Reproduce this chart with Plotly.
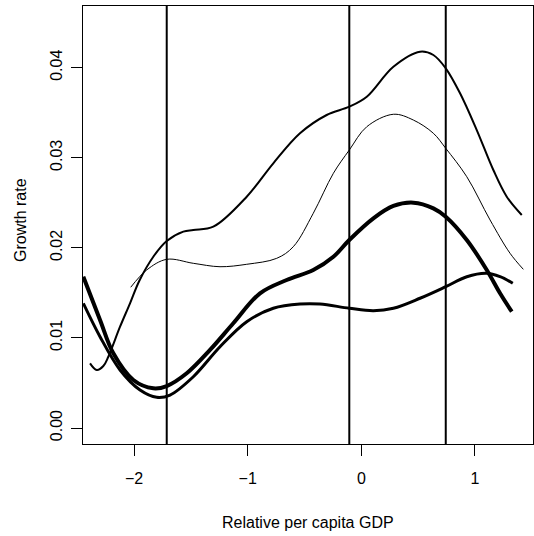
import plotly.graph_objects as go

# ---- data ----
x_a = [-2.388, -2.329, -2.271, -2.227, -2.124, -2.036, -1.954, -1.831, -1.713, -1.567, -1.479,
       -1.303, -1.009, -0.775, -0.540, -0.305, -0.106, 0.048, 0.282, 0.517, 0.634, 0.743,
       0.869, 1.016, 1.162, 1.280, 1.412]
y_a = [0.00718, 0.00644, 0.00688, 0.00791, 0.01124, 0.01384, 0.01635, 0.01901, 0.02075, 0.02179, 0.02198,
       0.02234, 0.02567, 0.02938, 0.03271, 0.03474, 0.03566, 0.03677, 0.04010, 0.04177, 0.04140, 0.03992,
       0.03715, 0.03307, 0.02863, 0.02567, 0.02364]

x_b = [-2.030, -1.889, -1.713, -1.479, -1.244, -1.009, -0.745, -0.599, -0.423, -0.246, -0.106,
       0.048, 0.282, 0.458, 0.634, 0.743, 0.928, 1.133, 1.309, 1.426]
y_b = [0.01562, 0.01754, 0.01872, 0.01828, 0.01790, 0.01817, 0.01883, 0.02012, 0.02383, 0.02827, 0.03085,
       0.03344, 0.03482, 0.03418, 0.03271, 0.03104, 0.02789, 0.02309, 0.01939, 0.01761]

x_c = [-2.447, -2.300, -2.183, -2.007, -1.831, -1.713, -1.537, -1.332, -1.127, -0.892, -0.657,
       -0.423, -0.246, -0.106, 0.106, 0.282, 0.458, 0.634, 0.743, 0.928, 1.104, 1.221, 1.324]
y_c = [0.01679, 0.01199, 0.00829, 0.00533, 0.00441, 0.00466, 0.00607, 0.00866, 0.01162, 0.01495, 0.01643,
       0.01754, 0.01901, 0.02087, 0.02327, 0.02464, 0.02501, 0.02438, 0.02345, 0.02087, 0.01754, 0.01495, 0.01291]

x_d = [-2.447, -2.300, -2.124, -1.948, -1.801, -1.684, -1.479, -1.244, -1.009, -0.775, -0.540,
       -0.364, -0.106, 0.106, 0.282, 0.517, 0.743, 0.928, 1.104, 1.221, 1.333]
y_d = [0.01384, 0.01013, 0.00644, 0.00422, 0.00341, 0.00366, 0.00569, 0.00902, 0.01180, 0.01329, 0.01376,
       0.01376, 0.01329, 0.01302, 0.01329, 0.01440, 0.01568, 0.01679, 0.01717, 0.01679, 0.01606]

vlines = [-1.713, -0.106, 0.743]

x_ticks = [-2, -1, 0, 1]
x_tick_labels = ["\u22122", "\u22121", "0", "1"]
y_ticks = [0.00, 0.01, 0.02, 0.03, 0.04]
y_tick_labels = ["0.00", "0.01", "0.02", "0.03", "0.04"]

x_title = "Relative per capita GDP"
y_title = "Growth rate"

# ---- figure ----
fig = go.Figure()
series = [(x_a, y_a, 2), (x_b, y_b, 1), (x_c, y_c, 4), (x_d, y_d, 3)]
for xs, ys, w in series:
    fig.add_trace(go.Scatter(x=xs, y=ys, mode="lines",
                             line=dict(color="black", width=w, shape="spline", smoothing=1.0),
                             showlegend=False, hoverinfo="skip"))

for v in vlines:
    fig.add_shape(type="line", xref="x", yref="paper", x0=v, x1=v, y0=0, y1=1,
                  line=dict(color="black", width=2))

font = dict(family="Liberation Sans, Arial, sans-serif", size=16, color="black")

fig.update_layout(
    width=534, height=536,
    margin=dict(l=83, r=1, t=6, b=92, pad=0),
    paper_bgcolor="white", plot_bgcolor="white",
    font=font,
    xaxis=dict(range=[-2.450, 1.511], showgrid=False, zeroline=False,
               showline=True, mirror=True, linecolor="black", linewidth=1,
               ticks="outside", ticklen=11, tickcolor="black", tickwidth=1,
               tickvals=x_ticks, ticktext=x_tick_labels, tickfont=font,
               ticklabelstandoff=9),
    yaxis=dict(range=[-0.001776, 0.046837], showgrid=False, zeroline=False,
               showline=True, mirror=True, linecolor="black", linewidth=1,
               ticks="outside", ticklen=11, tickcolor="black", tickwidth=1,
               tickvals=y_ticks, ticktext=y_tick_labels, tickfont=font,
               tickangle=-90, ticklabelstandoff=3),
    annotations=[
        dict(text=x_title, xref="paper", yref="paper", x=0.5, y=(444 - 522) / 438,
             xanchor="center", yanchor="middle", showarrow=False, font=font),
        dict(text=y_title, xref="paper", yref="paper", x=(20 - 83) / 450, y=(444 - 220) / 438,
             xanchor="center", yanchor="middle", showarrow=False, textangle=-90, font=font),
    ],
)

fig.write_html("out.html")
